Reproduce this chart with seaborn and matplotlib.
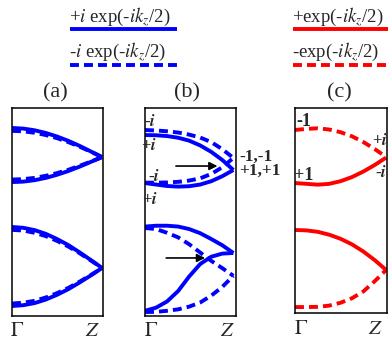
import matplotlib
matplotlib.use("Agg")
import matplotlib.pyplot as plt
import numpy as np
import pandas as pd
import seaborn as sns

# ----------------------------------------------------------------------------- #
# band data (k from Gamma to Z, energy scaled to box 0..1)
kz = [0.0, 0.125, 0.25, 0.375, 0.5, 0.625, 0.75, 0.875, 1.0]

# (a)
a_top_up_solid = [0.904, 0.901, 0.893, 0.880, 0.863, 0.842, 0.818, 0.791, 0.764]
a_top_lo_solid = [0.644, 0.646, 0.653, 0.664, 0.679, 0.697, 0.718, 0.741, 0.764]
a_top_up_dash = [0.890, 0.888, 0.881, 0.870, 0.855, 0.836, 0.814, 0.790, 0.764]
a_top_lo_dash = [0.656, 0.658, 0.664, 0.674, 0.687, 0.703, 0.722, 0.742, 0.764]
a_bot_up_solid = [0.428, 0.424, 0.413, 0.395, 0.370, 0.341, 0.306, 0.269, 0.231]
a_bot_lo_solid = [0.048, 0.052, 0.062, 0.079, 0.102, 0.129, 0.161, 0.195, 0.231]
a_bot_up_dash = [0.414, 0.411, 0.400, 0.384, 0.361, 0.334, 0.302, 0.267, 0.231]
a_bot_lo_dash = [0.060, 0.064, 0.073, 0.089, 0.110, 0.135, 0.165, 0.197, 0.231]

# (b)
b_top_up_solid = [0.870, 0.869, 0.865, 0.857, 0.843, 0.820, 0.789, 0.750, 0.702]
b_top_lo_solid = [0.639, 0.632, 0.625, 0.622, 0.624, 0.632, 0.648, 0.672, 0.702]
b_top_up_dash = [0.894, 0.892, 0.888, 0.882, 0.872, 0.858, 0.836, 0.802, 0.760]
b_top_lo_dash = [0.641, 0.641, 0.642, 0.645, 0.651, 0.662, 0.683, 0.715, 0.760]
b_bot_up_solid = [0.430, 0.434, 0.434, 0.430, 0.418, 0.398, 0.370, 0.340, 0.303]
b_bot_lo_solid = [0.025, 0.040, 0.070, 0.120, 0.190, 0.250, 0.285, 0.300, 0.303]
b_bot_up_dash = [0.423, 0.418, 0.400, 0.378, 0.345, 0.305, 0.265, 0.230, 0.193]
b_bot_lo_dash = [0.019, 0.020, 0.025, 0.032, 0.045, 0.065, 0.098, 0.140, 0.193]

# (c)
c_top_dash = [0.893, 0.898, 0.901, 0.895, 0.882, 0.862, 0.834, 0.800, 0.761]
c_top_solid = [0.634, 0.630, 0.626, 0.630, 0.643, 0.663, 0.690, 0.722, 0.758]
c_bot_solid = [0.405, 0.403, 0.396, 0.382, 0.362, 0.335, 0.300, 0.258, 0.210]
c_bot_dash = [0.029, 0.029, 0.030, 0.036, 0.050, 0.072, 0.105, 0.155, 0.210]

legend_blue = [r"+$i$ exp(-$ik_z$/2)", r"-$i$ exp(-$ik_z$/2)"]
legend_red = [r"+exp(-$ik_z$/2)", r"-exp(-$ik_z$/2)"]
panel_names = ["(a)", "(b)", "(c)"]

BLUE = (0, 0, 1)
RED = (1, 0, 0)
LW = 2.8
DASH = (2.3, 1.3)
# ----------------------------------------------------------------------------- #

sns.set_style("white")
plt.rcParams["font.family"] = ["Liberation Serif", "DejaVu Serif"]
plt.rcParams["mathtext.fontset"] = "stix"

W, H = 388, 345
fig = plt.figure(figsize=(W / 100, H / 100), dpi=100)


def px_box(x0, x1, y0, y1):
    return [x0 / W, 1 - y1 / H, (x1 - x0) / W, (y1 - y0) / H]


def draw_curve(ax, values, color, dashed=False):
    df = pd.DataFrame({"k": kz, "E": values})
    sns.lineplot(data=df, x="k", y="E", ax=ax, color=color, lw=LW,
                 linestyle="--" if dashed else "-", estimator=None)
    line = ax.lines[-1]
    line.set_solid_capstyle("butt")
    if dashed:
        line.set_dashes(DASH)
        line.set_dash_capstyle("butt")


def setup_panel(ax, xmax=1.0):
    ax.set_xlim(0, xmax)
    ax.set_ylim(0, 1)
    ax.set_xticks([])
    ax.set_yticks([])
    ax.set_xlabel("")
    ax.set_ylabel("")
    for sp in ax.spines.values():
        sp.set_color("k")
        sp.set_linewidth(1.1)
        sp.set_visible(True)


ax_a = fig.add_axes(px_box(12, 103, 108, 316))
ax_b = fig.add_axes(px_box(145, 236, 108, 316))
ax_c = fig.add_axes(px_box(295, 387, 108, 313))

for vals in [a_top_up_solid, a_top_lo_solid, a_bot_up_solid, a_bot_lo_solid]:
    draw_curve(ax_a, vals, BLUE)
for vals in [a_top_up_dash, a_top_lo_dash, a_bot_up_dash, a_bot_lo_dash]:
    draw_curve(ax_a, vals, BLUE, dashed=True)
setup_panel(ax_a, 1.01)

for vals in [b_top_up_solid, b_top_lo_solid, b_bot_up_solid, b_bot_lo_solid]:
    draw_curve(ax_b, vals, BLUE)
for vals in [b_top_up_dash, b_top_lo_dash, b_bot_up_dash, b_bot_lo_dash]:
    draw_curve(ax_b, vals, BLUE, dashed=True)
setup_panel(ax_b, 1.03)

for vals in [c_top_solid, c_bot_solid]:
    draw_curve(ax_c, vals, RED)
for vals in [c_top_dash, c_bot_dash]:
    draw_curve(ax_c, vals, RED, dashed=True)
setup_panel(ax_c, 1.01)

# arrows in (b)
arrow_kw = dict(arrowstyle="-|>", color="k", lw=1.2, mutation_scale=12,
                shrinkA=0, shrinkB=0)
ax_b.annotate("", xy=(0.82, 0.721), xytext=(0.35, 0.721), arrowprops=arrow_kw)
ax_b.annotate("", xy=(0.68, 0.279), xytext=(0.24, 0.279), arrowprops=arrow_kw)

# overlay in pixel coordinates for the texts and legend
lax = fig.add_axes([0, 0, 1, 1])
lax.set_xlim(0, W)
lax.set_ylim(H, 0)
lax.axis("off")
lax.patch.set_alpha(0)

fs_leg = 13.5
lax.text(69, 17, legend_blue[0], fontsize=fs_leg, va="center", ha="left")
lax.text(69, 52, legend_blue[1], fontsize=fs_leg, va="center", ha="left")
lax.text(292, 17, legend_red[0], fontsize=fs_leg, va="center", ha="left")
lax.text(292, 52, legend_red[1], fontsize=fs_leg, va="center", ha="left")
lax.plot([70, 177], [29, 29], color=BLUE, lw=LW, solid_capstyle="butt")
lax.plot([70, 177], [65, 65], color=BLUE, lw=LW, dashes=DASH, dash_capstyle="butt")
lax.plot([293, 388], [29, 29], color=RED, lw=LW, solid_capstyle="butt")
lax.plot([293, 388], [65, 65], color=RED, lw=LW, dashes=DASH, dash_capstyle="butt")

for name, xc in zip(panel_names, [55, 187, 339]):
    lax.text(xc, 93, name, fontsize=16, ha="center", va="center")

# k-point labels
for xg, xz, yy in [(17, 92, 332), (151, 227, 332), (301, 375, 329)]:
    lax.text(xg, yy, r"$\Gamma$", fontsize=15, ha="center", va="center")
    lax.text(xz, yy, r"$Z$", fontsize=15, ha="center", va="center")

# eigenvalue labels
fs_s = 12
for x, y, s in [(150, 122, r"-$\boldsymbol{i}$"), (149, 146, r"+$\boldsymbol{i}$"),
                (154, 177, r"-$\boldsymbol{i}$"), (150, 200, r"+$\boldsymbol{i}$"),
                (380, 141, r"+$\boldsymbol{i}$"), (381, 173, r"-$\boldsymbol{i}$")]:
    lax.text(x, y, s, fontsize=fs_s, fontweight="bold", ha="center", va="center")
for x, y, s in [(304, 121, "-1"), (304, 176, "+1")]:
    lax.text(x, y, s, fontsize=13, fontweight="bold", ha="center", va="center")
# Z-point eigenvalue pair in (b): one two-line text, tightly spaced
lax.text(239, 164, "-1,-1\n+1,+1", fontsize=12.5, fontweight="bold",
         ha="left", va="center", linespacing=0.78)

fig.savefig("out.png", dpi=100)
